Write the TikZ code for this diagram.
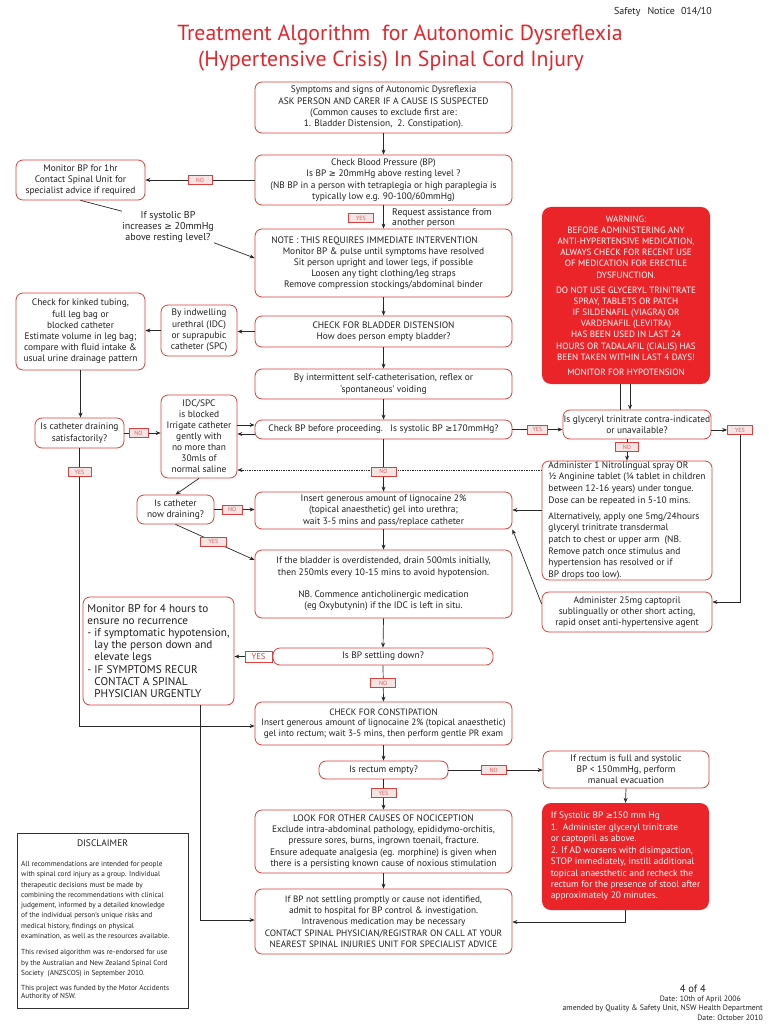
\documentclass[tikz,border=0pt]{standalone}
\usepackage{fontspec}
\setmainfont{PT Sans}
\newfontfamily\symf[Scale=0.9]{DejaVu Sans}
\usetikzlibrary{arrows.meta,calc}
\definecolor{boxred}{RGB}{222,62,60}
\definecolor{titlered}{RGB}{228,38,44}
\definecolor{warnred}{RGB}{234,36,40}
\definecolor{tagfill}{RGB}{244,228,228}
\definecolor{tagtext}{RGB}{222,96,96}
\definecolor{linec}{RGB}{40,40,40}
\definecolor{txt}{RGB}{35,31,32}
\newcommand{\mygeq}{{\symf ≥}}
\begin{document}
\begin{tikzpicture}[x=1pt,y=-1pt,
  sz/.style 2 args={minimum width=#1pt, minimum height=#2pt},
  box/.style={draw=boxred, line width=0.8pt, rounded corners=7pt, fill=white, align=center, inner sep=0pt, text=txt, font=\fontsize{9.4}{11.4}\selectfont},
  redbox/.style={fill=warnred, rounded corners=9pt, inner sep=0pt, text=white},
  arr/.style={draw=linec, line width=0.7pt, -{Stealth[length=5pt,width=4pt]}},
  ln/.style={draw=linec, line width=0.7pt},
  tag/.style={draw=boxred, fill=tagfill, line width=0.6pt, text=tagtext, font=\fontsize{6}{6}\selectfont, inner sep=0pt, minimum width=23pt, minimum height=9pt},
  tagb/.style={draw=boxred, fill=white, line width=0.6pt, text=boxred, font=\fontsize{8.5}{9}\selectfont, inner sep=0pt, minimum width=27pt, minimum height=11pt},
  plain/.style={inner sep=0pt, text=txt, align=center, font=\fontsize{9.4}{11}\selectfont}
]
\fill[white] (0,0) rectangle (768,1024);
\useasboundingbox (0,0) rectangle (768,1024);

% header
\node[plain, anchor=east, font=\fontsize{10}{10}\selectfont] (sn) at (712,12) {Safety\hspace{7pt}Notice\hspace{6pt}014/10};
\node[inner sep=0pt, text=titlered, font=\fontsize{21.8}{24}\selectfont] (t1) at (400,35) {Treatment Algorithm\ \ for Autonomic Dysreflexia};
\node[inner sep=0pt, text=titlered, font=\fontsize{21.8}{24}\selectfont] (t2) at (391,61) {(Hypertensive Crisis) In Spinal Cord Injury};

% main column
\node[box, sz={257}{51}] (b1) at (383.5,107.5) {Symptoms and signs of Autonomic Dysreflexia\\ ASK PERSON AND CARER IF A CAUSE IS SUSPECTED\\ (Common causes to exclude first are:\\ 1. Bladder Distension,\ \ 2. Constipation).};
\node[box, sz={257}{50}] (b2) at (383.5,180) {Check Blood Pressure (BP)\\ Is BP \mygeq{} 20mmHg above resting level ?\\ (NB BP in a person with tetraplegia or high paraplegia is\\ typically low e.g. 90-100/60mmHg)};
\node[box, sz={129}{40}] (mon1) at (80.5,180) {Monitor BP for 1hr\\ Contact Spinal Unit for\\ specialist advice if required};
\node[box, sz={257}{68}, font=\fontsize{9.4}{11}\selectfont] (note) at (383.5,263) {NOTE : THIS REQUIRES IMMEDIATE INTERVENTION\hspace*{18pt}\\ Monitor BP \& pulse until symptoms have resolved\\ Sit person upright and lower legs, if possible\\ Loosen any tight clothing/leg straps\\ Remove compression stockings/abdominal binder};
\node[box, sz={257}{31}] (bladder) at (383.5,331.5) {CHECK FOR BLADDER DISTENSION\\ How does person empty bladder?};
\node[box, sz={257}{30}] (intermit) at (383.5,384) {By intermittent self-catheterisation, reflex or\\ ‘spontaneous’ voiding};
\node[box, sz={257}{19}] (checkbp) at (383.5,429.5) {Check BP before proceeding.\ \ \ Is systolic BP \mygeq170mmHg?};
\node[box, sz={257}{37}] (insert) at (383.5,510.5) {Insert generous amount of lignocaine 2\%\\ (topical anaesthetic) gel into urethra;\\ wait 3-5 mins and pass/replace catheter};
\node[box, sz={257}{68}, font=\fontsize{9.4}{11.3}\selectfont] (overdist) at (383.5,584) {If the bladder is overdistended, drain 500mls initially,\\ then 250mls every 10-15 mins to avoid hypotension.\\[11.3pt] NB. Commence anticholinergic medication\\ (eg Oxybutynin) if the IDC is left in situ.};
\node[box, sz={220}{17}] (settle) at (383,656.5) {Is BP settling down?};
\node[box, sz={151}{108}, align=left, font=\fontsize{11.2}{12.1}\selectfont] (mon4) at (158.5,651) {Monitor BP for 4 hours to\\ ensure no recurrence\\ - if symptomatic hypotension,\\ \phantom{-}\ lay the person down and\\ \phantom{-}\ elevate legs\\ - IF SYMPTOMS RECUR\\ \phantom{-}\ CONTACT A SPINAL\\ \phantom{-}\ PHYSICIAN URGENTLY};
\node[box, sz={257}{43}, font=\fontsize{9.2}{10.8}\selectfont] (constip) at (383.5,723.5) {CHECK FOR CONSTIPATION\\ Insert generous amount of lignocaine 2\% (topical anaesthetic)\\ gel into rectum; wait 3-5 mins, then perform gentle PR exam};
\node[box, sz={129}{18}] (rectum) at (383.5,770) {Is rectum empty?};
\node[box, sz={166}{37}, font=\fontsize{9.4}{11}\selectfont] (rectfull) at (626,769.5) {If rectum is full and systolic\\ BP < 150mmHg, perform\\ manual evacuation};
\node[redbox, sz={167}{107}, align=left, font=\fontsize{9.4}{11.45}\selectfont] (red2) at (625.5,856.5) {If Systolic BP \mygeq150 mm Hg\\ 1.\ \ Administer glyceryl trinitrate\\ or captopril as above.\\ 2. If AD worsens with disimpaction,\\ STOP immediately, instill additional\\ topical anaesthetic and recheck the\\ rectum for the presence of stool after\\ approximately 20 minutes.};
\node[box, sz={257}{63}, font=\fontsize{9.4}{11.25}\selectfont] (nocic) at (383.5,841.5) {LOOK FOR OTHER CAUSES OF NOCICEPTION\\ Exclude intra-abdominal pathology, epididymo-orchitis,\\ pressure sores, burns, ingrown toenail, fracture.\\ Ensure adequate analgesia (eg. morphine) is given when\\ there is a persisting known cause of noxious stimulation};
\node[box, sz={257}{65}, font=\fontsize{9.2}{11.3}\selectfont] (final) at (383.5,921.5) {If BP not settling promptly or cause not identified,\\ admit to hospital for BP control \& investigation.\\ Intravenous medication may be necessary\\ CONTACT SPINAL PHYSICIAN/REGISTRAR ON CALL AT YOUR\\ NEAREST SPINAL INJURIES UNIT FOR SPECIALIST ADVICE};

% left column
\node[box, sz={129}{77}, font=\fontsize{9.4}{11.2}\selectfont] (kinked) at (80.5,331.5) {Check for kinked tubing,\\ full leg bag or\\ blocked catheter\\ Estimate volume in leg bag;\\ compare with fluid intake \&\\ usual urine drainage pattern};
\node[box, sz={76}{51}, font=\fontsize{9.4}{11.3}\selectfont] (indwell) at (199,330.5) {By indwelling\\ urethral (IDC)\\ or suprapubic\\ catheter (SPC)};
\node[box, sz={89}{30}] (cathdrain) at (79.5,433) {Is catheter draining\\ satisfactorily?};
\node[box, sz={76}{83}, font=\fontsize{9.4}{11}\selectfont] (idcspc) at (199,436.5) {IDC/SPC\\ is blocked\\ Irrigate catheter\\ gently with\\ no more than\\ 30mls of\\ normal saline};
\node[box, sz={77}{29}] (nowdrain) at (175.5,509.5) {Is catheter\\ now draining?};

% right column
\node[redbox, sz={168}{177}, align=center, font=\fontsize{9.1}{11.2}\selectfont] (warn) at (626,295.5) {WARNING:\\ BEFORE ADMINISTERING ANY\\ ANTI-HYPERTENSIVE MEDICATION,\\ ALWAYS CHECK FOR RECENT USE\\ OF MEDICATION FOR ERECTILE\\ DYSFUNCTION.\\[3.8pt] DO NOT USE GLYCERYL TRINITRATE\\ SPRAY, TABLETS OR PATCH\\ IF SILDENAFIL (VIAGRA) OR\\ VARDENAFIL (LEVITRA)\\ HAS BEEN USED IN LAST 24\\ HOURS OR TADALAFIL (CIALIS) HAS\\ BEEN TAKEN WITHIN LAST 4 DAYS!\\[3.8pt] MONITOR FOR HYPOTENSION};
\node[box, sz={148}{29}] (glyc) at (637,424.5) {Is glyceryl trinitrate contra-indicated\\ or unavailable?};
\node[box, sz={170}{119}, align=left, font=\fontsize{9.4}{11.6}\selectfont] (admin) at (627,520.5) {Administer 1 Nitrolingual spray OR\\ ½ Anginine tablet (¼ tablet in children\\ between 12-16 years) under tongue.\\ Dose can be repeated in 5-10 mins.\\[4.5pt] Alternatively, apply one 5mg/24hours\\ glyceryl trinitrate transdermal\\ patch to chest or upper arm\ \ (NB.\\ Remove patch once stimulus and\\ hypertension has resolved or if\\ BP drops too low).};
\node[box, sz={170}{40}, font=\fontsize{9.4}{11}\selectfont] (capto) at (627,612) {Administer 25mg captopril\\ sublingually or other short acting,\\ rapid onset anti-hypertensive agent};

% free texts
\node[plain, font=\fontsize{10}{11}\selectfont] (ifsys) at (168,227) {If systolic BP\\ increases \mygeq{} 20mmHg\\ above resting level?};
\node[plain, anchor=west, align=left, font=\fontsize{9.7}{9.3}\selectfont] (req) at (392,218) {Request assistance from\\ another person};

% disclaimer
\node[draw=black!80, line width=0.8pt, sz={171}{175}, inner sep=0pt] (disc) at (102.5,921) {};
\node[plain, font=\fontsize{9.5}{10}\selectfont] (dh) at (102.5,843) {DISCLAIMER};
\node[plain, anchor=north west, align=left, font=\fontsize{7.3}{10.3}\selectfont] (dt) at (21,861) {All recommendations are intended for people\\ with spinal cord injury as a group. Individual\\ therapeutic decisions must be made by\\ combining the recommendations with clinical\\ judgement, informed by a detailed knowledge\\ of the individual person’s unique risks and\\ medical history, findings on physical\\ examination, as well as the resources available.\\[6pt] This revised algorithm was re-endorsed for use\\ by the Australian and New Zealand Spinal Cord\\ Society\ \ (ANZSCOS) in September 2010.\\[5pt] This project was funded by the Motor Accidents\\[-2.5pt] Authority of NSW.};

% footer
\node[plain, anchor=east, font=\fontsize{10.5}{12}\selectfont] (pg) at (706,989) {4 of 4};
\node[plain, anchor=east, font=\fontsize{7.8}{8}\selectfont] (d1) at (741,999) {Date: 10th of April 2006};
\node[plain, anchor=east, font=\fontsize{7.8}{8}\selectfont] (d2) at (763,1009) {amended by Quality \& Safety Unit, NSW Health Department};
\node[plain, anchor=east, font=\fontsize{7.8}{8}\selectfont] (d3) at (763,1018) {Date: October 2010};

% helper coordinates
\coordinate (m4x) at (200,0);
\coordinate (wl) at (620,0);
\coordinate (wr) at (630,0);

% connectors
\draw[arr] (b1.south) -- (b2.north);
\draw[arr] (b2.west) -- node[tag, minimum width=24pt]{NO} (mon1.east);
\draw[ln] (mon1.south) -- (ifsys.north west);
\draw[arr] (ifsys.south east) -- (note.west |- 0,258);
\draw[arr] (b2.south) -- (note.north);
\node[tag, minimum width=25pt] (yes1) at (361,218) {YES};
\draw[arr] (note.south) -- (bladder.north);
\draw[arr] (bladder.south) -- (intermit.north);
\draw[arr] (intermit.south) -- (checkbp.north);
\draw[arr] (bladder.west) -- (bladder.west -| indwell.east);
\draw[arr] (indwell.west) -- (indwell.west -| kinked.east);
\draw[arr] (kinked.south) -- (kinked.south |- cathdrain.north);
\draw[arr] (cathdrain.east) -- node[tag, minimum width=19pt, pos=0.39]{NO} (cathdrain.east -| idcspc.west);
\draw[arr] (idcspc.east |- 0,425) -- (checkbp.west |- 0,425);
\draw[arr] (checkbp.west |- 0,434) -- (idcspc.east |- 0,434);
\draw[arr, densely dotted, line width=0.5pt] (admin.west |- 0,470) -- (idcspc.east |- 0,470);
\draw[arr] (checkbp.south) -- node[tag, minimum width=25pt, pos=0.62]{NO} (insert.north);
\draw[arr] (idcspc.south) -- (nowdrain.north);
\draw[arr] (nowdrain.east) -- node[tag, minimum width=20pt, pos=0.44]{NO} (nowdrain.east -| insert.west);
\draw[arr] (nowdrain.south) -- node[tag, minimum width=26pt, pos=0.48]{YES} (overdist.west |- 0,560);
\draw[arr] (insert.south) -- (overdist.north);
\draw[arr] (admin.west |- 0,510) -- (insert.east |- 0,510);
\draw[arr] (capto.west |- 0,604) -- (insert.south east);
\draw[arr] (overdist.south) -- (settle.north);
\draw[arr] (settle.west) -- node[tagb, pos=0.37]{YES} (settle.west -| mon4.east);
\draw[arr] (settle.south) -- node[tag, minimum width=25pt, pos=0.49]{NO} (constip.north);
\draw[arr] (cathdrain.south) -- node[tag, pos=0.086]{YES} (cathdrain.south |- 0,726) -- (constip.west |- 0,726);
\draw[arr] (mon4.south -| m4x) -- (m4x |- 0,920) -- (final.west |- 0,920);
\draw[arr] (constip.south) -- (rectum.north);
\draw[arr] (rectum.east) -- node[tag, minimum width=25pt, pos=0.48]{NO} (rectum.east -| rectfull.west);
\draw[arr] (rectum.south) -- node[tag, minimum width=25pt, pos=0.45]{YES} (nocic.north);
\draw[arr] (rectfull.south) -- (red2.north);
\draw[arr] (red2.south) |- (final.east |- 0,922);
\draw[arr] (nocic.south) -- (final.north);
\draw[ln] (warn.south -| wl) -- (glyc.north -| wl);
\draw[arr] (warn.south -| wr) -- (glyc.north -| wr);
\draw[arr] (checkbp.east) -- node[tag, minimum width=20pt, pos=0.5]{YES} (checkbp.east -| glyc.west);
\node[tag, minimum width=25pt] (yesg) at (740,430) {YES};
\draw[arr] (glyc.east |- yesg.west) -- (yesg.west);
\draw[arr] (yesg.south) |- (capto.east |- 0,602);
\draw[arr] (glyc.south -| admin.north) -- node[tag, pos=0.36]{NO} (admin.north);
\end{tikzpicture}
\end{document}
